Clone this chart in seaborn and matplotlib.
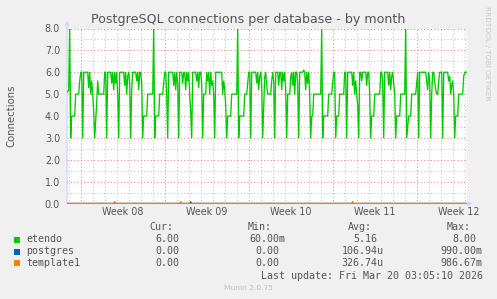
import numpy as np
import pandas as pd
import matplotlib
matplotlib.use("Agg")
import matplotlib.pyplot as plt
import seaborn as sns
from matplotlib.patches import Rectangle

# ---------------- data ----------------
start_time = "2026-02-14 20:00"   # 2-hour consolidated samples
view_start = "2026-02-14 20:36"
view_end = "2026-03-20 04:36"

# etendo connections, 12 samples per day (00:00, 02:00, ... 22:00)
etendo_w07 = [5.1, 5.1,                                                   # Sat 14 (20h, 22h)
              5.2, 8.0, 3.0, 4.0, 4.0, 4.0, 4.0, 5.0, 5.0, 5.0, 5.0, 5.6]  # Sun 15
etendo_w08 = [6.0, 6.0, 3.0, 6.0, 6.0, 6.0, 6.0, 6.0, 5.3, 6.0, 5.0, 5.6,  # Mon 16
              5.0, 4.2, 3.0, 3.8, 4.6, 5.6, 5.0, 5.0, 5.0, 5.0, 5.0, 5.0,  # Tue 17
              6.0, 6.0, 3.0, 6.0, 6.0, 6.0, 6.0, 5.5, 6.0, 5.2, 6.0, 5.5,  # Wed 18
              6.0, 5.0, 3.0, 6.0, 6.0, 6.0, 6.0, 6.0, 5.4, 6.0, 5.0, 5.8,  # Thu 19
              6.0, 5.5, 3.0, 5.2, 6.0, 6.0, 6.0, 6.0, 5.6, 6.0, 5.2, 6.0,  # Fri 20
              6.0, 5.5, 3.0, 4.0, 4.0, 4.0, 4.0, 5.0, 5.0, 5.0, 5.0, 5.0,  # Sat 21
              5.0, 8.0, 3.0, 4.0, 4.0, 4.0, 4.0, 5.0, 5.0, 5.0, 5.0, 5.5]  # Sun 22
etendo_w09 = [6.0, 6.0, 5.0, 3.0, 6.0, 6.0, 6.0, 6.0, 6.0, 5.4, 6.0, 5.2,  # Mon 23
              6.0, 5.5, 3.0, 6.0, 6.0, 6.0, 5.5, 6.0, 6.0, 5.2, 6.0, 5.6,  # Tue 24
              6.0, 5.0, 4.2, 3.0, 6.0, 6.0, 6.0, 6.0, 5.6, 6.0, 5.3, 6.0,  # Wed 25
              6.0, 5.5, 3.0, 5.0, 5.0, 5.0, 6.0, 5.6, 6.0, 5.0, 6.0, 5.4,  # Thu 26
              5.6, 5.0, 3.0, 6.0, 6.0, 6.0, 6.0, 6.0, 6.0, 6.0, 5.0, 5.6,  # Fri 27
              5.2, 4.5, 3.0, 4.0, 4.0, 4.0, 4.0, 5.0, 5.0, 5.0, 5.0, 5.0,  # Sat 28
              5.0, 8.0, 3.0, 4.0, 4.0, 4.0, 4.0, 4.0, 5.0, 5.0, 5.0, 5.5]  # Sun 01
etendo_w10 = [6.0, 6.0, 3.0, 6.0, 6.0, 6.0, 6.0, 6.0, 5.5, 6.0, 5.2, 5.8,  # Mon 02
              6.0, 5.4, 3.0, 4.4, 5.8, 6.0, 5.4, 5.0, 5.0, 5.0, 5.0, 5.6,  # Tue 03
              6.0, 5.6, 3.0, 6.0, 6.0, 6.0, 5.4, 6.0, 6.0, 5.2, 6.0, 5.6,  # Wed 04
              6.0, 5.2, 3.0, 5.0, 5.0, 5.0, 5.8, 6.0, 5.4, 6.0, 5.0, 6.0,  # Thu 05
              6.0, 5.5, 3.0, 6.0, 6.0, 6.0, 6.0, 6.1, 6.0, 5.2, 6.0, 5.5,  # Fri 06
              6.0, 5.0, 3.0, 4.0, 4.0, 5.0, 5.0, 5.0, 5.0, 5.0, 5.0, 5.0,  # Sat 07
              5.0, 8.0, 3.0, 4.0, 4.0, 4.0, 4.0, 4.0, 5.0, 5.0, 5.0, 5.0]  # Sun 08
etendo_w11 = [5.5, 6.0, 6.0, 3.0, 4.0, 4.0, 4.0, 5.0, 5.0, 5.0, 5.0, 5.0,  # Mon 09
              6.0, 6.0, 3.0, 6.0, 6.0, 6.0, 6.0, 6.0, 5.4, 6.0, 5.0, 5.6,  # Tue 10
              5.0, 4.5, 3.0, 6.0, 6.0, 5.6, 6.0, 6.0, 6.0, 6.0, 5.4, 6.0,  # Wed 11
              6.0, 5.0, 3.0, 4.0, 4.0, 4.0, 5.0, 5.0, 5.0, 5.0, 5.0, 5.0,  # Thu 12
              6.0, 6.0, 5.5, 3.0, 6.0, 6.0, 6.0, 6.0, 5.4, 6.0, 5.2, 5.8,  # Fri 13
              6.0, 5.5, 5.0, 3.0, 4.0, 4.0, 4.0, 4.0, 5.0, 5.0, 5.0, 5.0,  # Sat 14
              5.0, 8.0, 3.0, 3.5, 4.0, 4.0, 4.0, 5.0, 5.0, 5.0, 5.0, 5.0]  # Sun 15
etendo_w12 = [5.5, 6.0, 3.0, 6.0, 6.0, 6.0, 6.0, 6.0, 6.0, 6.0, 5.6, 5.2,  # Mon 16
              6.0, 5.6, 3.0, 5.0, 6.0, 6.0, 5.6, 5.2, 5.0, 5.0, 5.6, 6.0,  # Tue 17
              6.0, 6.0, 3.0, 6.0, 6.0, 6.0, 6.0, 6.0, 5.6, 5.8, 5.0, 5.4,  # Wed 18
              5.6, 5.0, 3.0, 4.0, 4.0, 4.0, 5.0, 5.0, 5.0, 5.0, 5.0, 5.8,  # Thu 19
              6.0, 6.0, 6.0]                                               # Fri 20

# small non-zero samples of the other databases (everything else is 0)
postgres_peak_times = ["2026-02-25 04:00"]
postgres_peak_values = [0.08]
template1_peak_times = ["2026-02-18 20:00", "2026-02-24 08:00", "2026-03-10 16:00"]
template1_peak_values = [0.08, 0.08, 0.08]

series_names = ["etendo", "postgres", "template1"]
series_colors = ["#00CC00", "#0066B3", "#FF8000"]
week_labels = ["Week 08", "Week 09", "Week 10", "Week 11", "Week 12"]
week_starts = ["2026-02-16", "2026-02-23", "2026-03-02", "2026-03-09", "2026-03-16"]
y_ticks = [0, 1, 2, 3, 4, 5, 6, 7, 8]

cur_values = ["6.00", "0.00", "0.00"]
min_values = ["60.00m", "0.00", "0.00"]
avg_values = ["5.16", "106.94u", "326.74u"]
max_values = ["8.00", "990.00m", "986.67m"]

title = "PostgreSQL connections per database - by month"
y_label = "Connections"
last_update = "Last update: Fri Mar 20 03:05:10 2026"
footer = "Munin 2.0.75"
watermark = "RRDTOOL / TOBI OETIKER"

# ---------------- frame ----------------
etendo = etendo_w07 + etendo_w08 + etendo_w09 + etendo_w10 + etendo_w11 + etendo_w12
times = pd.date_range(start_time, periods=len(etendo), freq="2h")
postgres = pd.Series(0.0, index=times)
postgres.loc[pd.to_datetime(postgres_peak_times)] = postgres_peak_values
template1 = pd.Series(0.0, index=times)
template1.loc[pd.to_datetime(template1_peak_times)] = template1_peak_values
df = pd.DataFrame({"time": times, "etendo": etendo,
                   "postgres": postgres.values, "template1": template1.values})

# ---------------- style ----------------
sns.set_style("white")
plt.rcParams["font.family"] = ["DejaVu Sans"]
W, H, DPI = 497, 299, 100
TXT = "#555555"
AXIS_C = "#CFD6F8"

fig = plt.figure(figsize=(W / DPI, H / DPI), dpi=DPI, facecolor="#F0F0F0")
L, R, T, B = 67, 467, 28.5, 203.5
ax = fig.add_axes([L / W, 1 - B / H, (R - L) / W, (B - T) / H])
ax.set_facecolor("white")

x0, x1 = pd.Timestamp(view_start), pd.Timestamp(view_end)

# grid: minor (every day / 0.5), major (every week / 1.0)
day_lines = pd.date_range("2026-02-15", "2026-03-20", freq="D")
wk = pd.to_datetime(week_starts)
minor_c, major_c = "#C4C4C4", "#E88C8C"
dots = (0, (1, 2))
wk_set = set(wk)
for d in day_lines:
    if d not in wk_set:
        ax.axvline(d, color=minor_c, lw=0.8, ls=dots, zorder=1)
for v in np.arange(0.5, 8.0, 1.0):
    ax.axhline(v, color=minor_c, lw=0.8, ls=dots, zorder=1)
for d in wk:
    ax.axvline(d, color=major_c, lw=0.8, ls=dots, zorder=1.5)
for v in y_ticks[1:]:
    ax.axhline(v, color=major_c, lw=0.8, ls=dots, zorder=1.5)

# series
for name, col in zip(series_names, series_colors):
    sns.lineplot(data=df, x="time", y=name, color=col, lw=0.95, ax=ax,
                 estimator=None, zorder=3, legend=False)

ax.set_xlim(x0, x1)
ax.set_ylim(0, 8)
for s in ax.spines.values():
    s.set_visible(False)

ax.set_xticks(wk + pd.Timedelta(hours=84))
ax.set_xticklabels(week_labels)
ax.set_yticks(y_ticks)
ax.set_yticklabels([f"{v:.1f}" for v in y_ticks])
ax.tick_params(axis="both", length=0, labelsize=6.9, labelcolor=TXT)
ax.tick_params(axis="y", pad=5.0)
ax.tick_params(axis="x", pad=2.5)
ax.set_xlabel("")
ax.set_ylabel("")

# axis lines with arrows
ax.annotate("", xy=(0, 1.045), xytext=(0, 0), xycoords="axes fraction",
            arrowprops=dict(arrowstyle="-|>", color=AXIS_C, lw=0.9,
                            mutation_scale=6, shrinkA=0, shrinkB=0), zorder=2)
ax.annotate("", xy=(1.014, 0), xytext=(0, 0), xycoords="axes fraction",
            arrowprops=dict(arrowstyle="-|>", color=AXIS_C, lw=0.9,
                            mutation_scale=6, shrinkA=0, shrinkB=0), zorder=2)
# redraw template1 baseline on top of the axis
ax.plot(df["time"], df["template1"], color=series_colors[2], lw=0.9, zorder=4)


def fx(px):
    return px / W


def fy(py):
    return 1 - py / H


fig.text(fx(248), fy(19), title, ha="center", va="center", fontsize=9.1, color=TXT)
fig.text(fx(11), fy(116), y_label, rotation=90, ha="center", va="center",
         fontsize=7.3, color=TXT)
fig.text(fx(487), fy(53), watermark, rotation=270, ha="center", va="center",
         fontsize=5.3, color="#C8C8C8")

# legend block (monospace)
mono = "DejaVu Sans Mono"
ms = 7.2
cw = ms * DPI / 72 * 0.602
for lbl, xl in zip(["Cur:", "Min:", "Avg:", "Max:"], [149, 248, 348, 447]):
    fig.text(fx(xl), fy(227), lbl, family=mono, fontsize=ms, color=TXT,
             ha="left", va="center")
rows_y = [239.5, 251.5, 263.3]
col_end = [185.7, 285, 383.5, 482.5]
for i, (name, col) in enumerate(zip(series_names, series_colors)):
    y = rows_y[i]
    fig.add_artist(Rectangle((fx(14), fy(y + 3)), 6 / W, 6 / H,
                             transform=fig.transFigure, color=col, lw=0))
    fig.text(fx(26), fy(y), name, family=mono, fontsize=ms, color=TXT,
             ha="left", va="center")
    for vals, ce in zip([cur_values, min_values, avg_values, max_values], col_end):
        s = vals[i]
        n = len(s) + (1 if s[-1].isdigit() else 0)
        fig.text(fx(ce - n * cw), fy(y), s, family=mono, fontsize=ms, color=TXT,
                 ha="left", va="center")

fig.text(fx(483), fy(275.7), last_update, family=mono, fontsize=ms, color=TXT,
         ha="right", va="center")
fig.text(fx(248), fy(288.5), footer, ha="center", va="center", fontsize=5.4,
         color="#C0C0C0")

fig.savefig("out.png", dpi=DPI, facecolor=fig.get_facecolor())
